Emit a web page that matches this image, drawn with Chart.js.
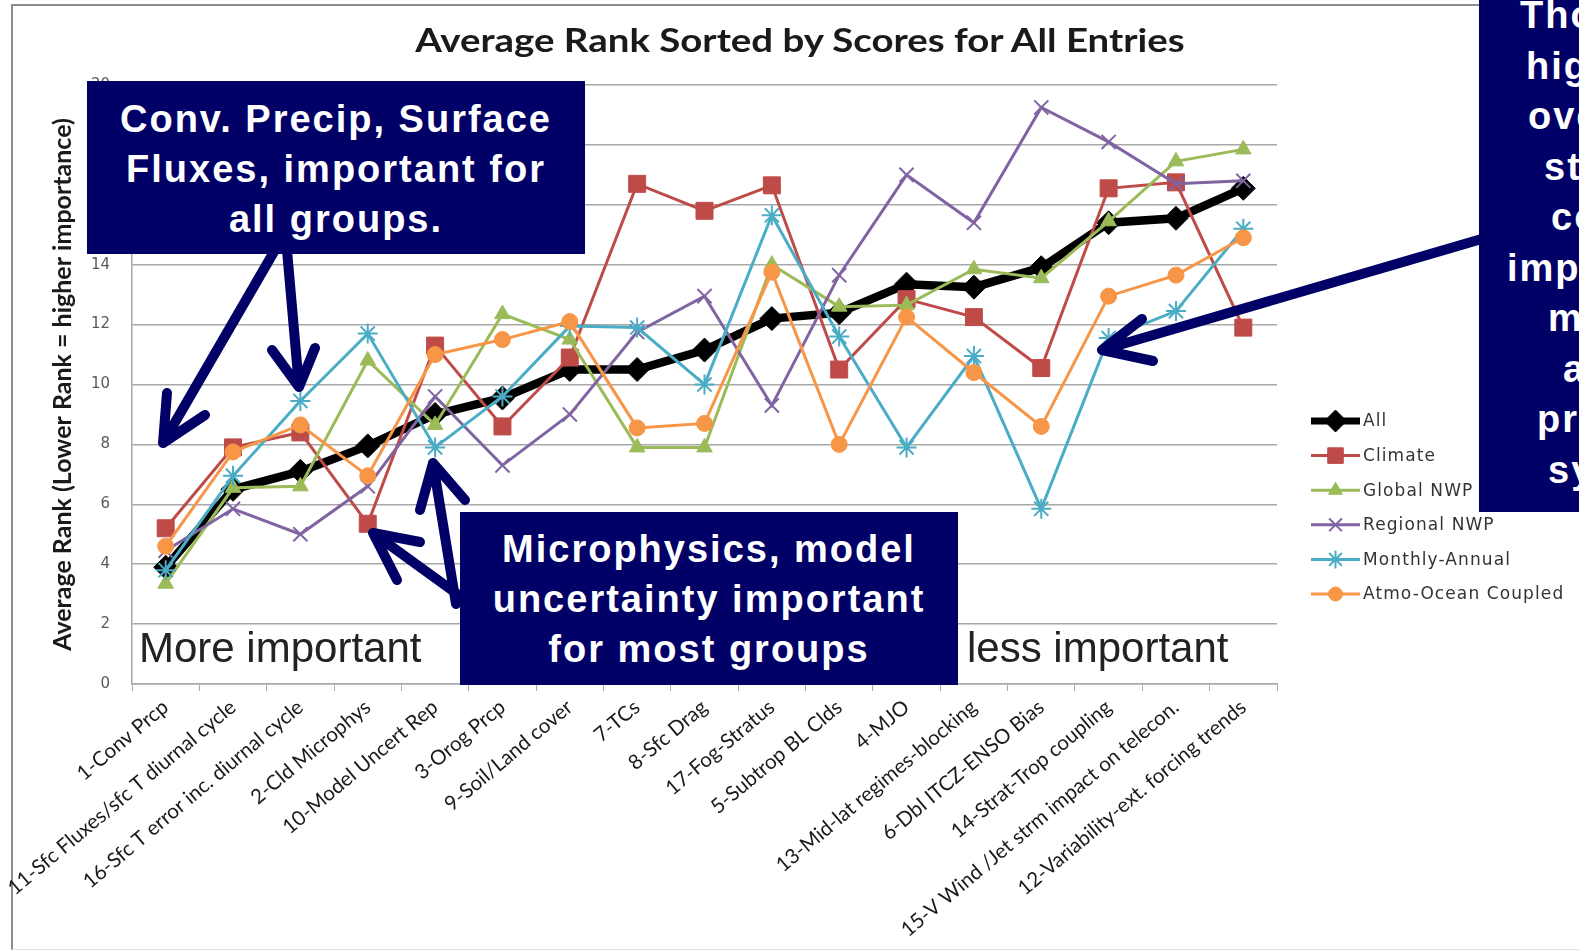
<!DOCTYPE html>
<html>
<head>
<meta charset="utf-8">
<script src="https://cdn.jsdelivr.net/npm/chart.js"></script>
<style>
  body { margin: 0; background: #fff; }
  #page { position: relative; width: 1579px; height: 950px; overflow: hidden; background: #fff; }
  #frame { position: absolute; left: 11px; top: 4px; width: 1600px; height: 943px;
           border-top: 2px solid #8c8c8c; border-left: 2px solid #8c8c8c; border-bottom: 1px solid #e2e2e2; }
  #rankChart { position: absolute; left: 0; top: 0; }
  #title { position: absolute; left: 0; top: 24px; width: 1600px; text-align: center;
           font-family: Lato, sans-serif; font-weight: bold; font-size: 32px; line-height: 32px;
           color: #1a1a1a; transform: scaleX(1.2); white-space: nowrap; }
  svg { position: absolute; left: 0; top: 0; }
  .box { position: absolute; background: #010066; color: #fff; box-sizing: border-box;
         font-family: "Liberation Sans", Arial, sans-serif; font-weight: bold; font-size: 38px;
         line-height: 50px; letter-spacing: 2px; text-align: center; white-space: nowrap; }
  .side { text-align: left; line-height: 50.5px; }
  .hint { position: absolute; font-family: "Liberation Sans", Arial, sans-serif; font-size: 42px;
          line-height: 42px; color: #222; white-space: nowrap; }
</style>
</head>
<body>
<div id="page">
  <div id="frame"></div>
  <canvas id="rankChart" width="1579" height="950"></canvas>
  <div id="title">Average Rank Sorted by Scores for All Entries</div>

  <svg width="1579" height="950">
    <g stroke="#010066" stroke-width="10" fill="none" stroke-linecap="round" stroke-linejoin="round">
      <path d="M275 250 L163 443 M167 393 L163 443 L205 415"/>
      <path d="M287 250 L299 387 M272 350 L299 387 L315 348"/>
      <path d="M460 596 L373 533 M420 542 L373 533 L397 580"/>
      <path d="M456 604 L433 463 M420 510 L433 463 L465 500"/>
      <path d="M1485 238 L1102 350 M1142 319 L1102 350 L1153 361"/>
    </g>
  </svg>

  <div class="hint" style="left:139px; top:627px;">More important</div>
  <div class="hint" style="left:967px; top:627px;">less important</div>

  <div class="box" style="left:87px; top:81px; width:498px; height:173px; padding-top:13px;">
    Conv. Precip, Surface<br>Fluxes, important for<br>all groups.
  </div>
  <div class="box" style="left:460px; top:512px; width:498px; height:173px; padding-top:12px;">
    Microphysics, model<br>uncertainty important<br>for most groups
  </div>
  <div class="box side" style="left:1479px; top:-20px; width:300px; height:532px; padding-top:10px;">
    <div style="padding-left:41px">Those with</div>
    <div style="padding-left:47px">highest</div>
    <div style="padding-left:49px">overall</div>
    <div style="padding-left:65px">std. dev.</div>
    <div style="padding-left:72px">considered</div>
    <div style="padding-left:28px">important</div>
    <div style="padding-left:69px">many</div>
    <div style="padding-left:84px">across</div>
    <div style="padding-left:58px">prediction</div>
    <div style="padding-left:69px">systems</div>
  </div>
</div>

<script>
// processes, ordered by the overall average rank
const processes = [
  "1-Conv Prcp", "11-Sfc Fluxes/sfc T diurnal cycle", "16-Sfc T error inc. diurnal cycle",
  "2-Cld Microphys", "10-Model Uncert Rep", "3-Orog Prcp", "9-Soil/Land cover", "7-TCs",
  "8-Sfc Drag", "17-Fog-Stratus", "5-Subtrop BL Clds", "4-MJO", "13-Mid-lat regimes-blocking",
  "6-Dbl ITCZ-ENSO Bias", "14-Strat-Trop coupling", "15-V Wind /Jet strm impact on telecon.",
  "12-Variability-ext. forcing trends"
];

// average rank per group
const rankAll      = [3.9, 6.5, 7.1, 7.95, 9.0, 9.55, 10.5, 10.5, 11.15, 12.2, 12.4, 13.35, 13.25, 13.9, 15.4, 15.55, 16.55];
const rankClimate  = [5.2, 7.9, 8.4, 5.35, 11.3, 8.6, 10.9, 16.7, 15.8, 16.65, 10.5, 12.85, 12.25, 10.55, 16.55, 16.75, 11.9];
const rankGlobal   = [3.35, 6.55, 6.6, 10.8, 8.65, 12.35, 11.5, 7.9, 7.9, 14.0, 12.6, 12.65, 13.85, 13.55, 15.45, 17.45, 17.85];
const rankRegional = [4.45, 5.85, 5.0, 6.6, 9.6, 7.3, 9.0, 11.75, 12.95, 9.3, 13.65, 17.0, 15.4, 19.25, 18.1, 16.7, 16.8];
const rankMonthly  = [3.8, 6.95, 9.45, 11.7, 7.9, 9.6, 11.95, 11.9, 10.0, 15.65, 11.6, 7.9, 10.95, 5.85, 11.55, 12.45, 15.2];
const rankCoupled  = [4.6, 7.75, 8.65, 6.95, 11.0, 11.5, 12.1, 8.55, 8.7, 13.75, 8.0, 12.25, 10.4, 8.6, 12.95, 13.65, 14.9];

const yTicks = [0, 2, 4, 6, 8, 10, 12, 14, 16, 18, 20];

function series(label, data, color, style, radius, width, order) {
  const thin = style === 'crossRot' || style === 'star';
  return {
    label: label,
    data: data,
    borderColor: color,
    backgroundColor: color,
    borderWidth: width,
    pointStyle: style,
    pointRadius: radius,
    pointBackgroundColor: color,
    pointBorderColor: color,
    pointBorderWidth: thin ? 2 : 1,
    tension: 0,
    order: order
  };
}

// legend drawn as a column beside the plot
const LEGEND_TOP = 421;
const LEGEND_GAP = 34.6;
const sideLegend = {
  id: 'sideLegend',
  afterDraw(chart) {
    const ctx = chart.ctx;
    chart.data.datasets.forEach((ds, i) => {
      const y = LEGEND_TOP + i * LEGEND_GAP;
      ctx.save();
      ctx.strokeStyle = ds.borderColor;
      ctx.lineWidth = Math.min(ds.borderWidth, 7);
      ctx.beginPath();
      ctx.moveTo(1311, y);
      ctx.lineTo(1360, y);
      ctx.stroke();
      ctx.fillStyle = ds.pointBackgroundColor;
      ctx.strokeStyle = ds.pointBorderColor;
      ctx.lineWidth = ds.pointBorderWidth;
      Chart.helpers.drawPoint(ctx, {
        pointStyle: ds.pointStyle,
        radius: ds.pointRadius - 1,
        rotation: 0,
        borderWidth: ds.pointBorderWidth
      }, 1335.5, y);
      ctx.fillStyle = '#333';
      ctx.font = '17px "DejaVu Sans"';
      ctx.letterSpacing = '1.1px';
      ctx.textBaseline = 'middle';
      ctx.textAlign = 'left';
      ctx.fillText(ds.label, 1363, y + 1);
      ctx.restore();
    });
  }
};

new Chart(document.getElementById('rankChart'), {
  type: 'line',
  data: {
    labels: processes,
    datasets: [
      series('All', rankAll, '#000000', 'rectRot', 12, 8.5, 6),
      series('Climate', rankClimate, '#BE4B48', 'rect', 12, 3, 5),
      series('Global NWP', rankGlobal, '#9BBB59', 'triangle', 9, 3, 4),
      series('Regional NWP', rankRegional, '#8064A2', 'crossRot', 10, 3, 3),
      series('Monthly-Annual', rankMonthly, '#4BACC6', 'star', 10, 3, 2),
      series('Atmo-Ocean Coupled', rankCoupled, '#F79646', 'circle', 8, 3, 1)
    ]
  },
  options: {
    responsive: false,
    animation: false,
    layout: {
      padding: { left: 12, right: 302, top: 85, bottom: 0 }
    },
    plugins: {
      legend: { display: false },
      tooltip: { enabled: false },
      title: { display: false }
    },
    scales: {
      x: {
        offset: true,
        grid: { display: true, drawOnChartArea: false, drawTicks: true, tickLength: 7, color: '#a8a8a8', offset: true },
        border: { color: '#a8a8a8', width: 1.5 },
        ticks: {
          autoSkip: false,
          minRotation: 40,
          maxRotation: 40,
          padding: 4,
          color: '#1a1a1a',
          font: { family: 'Lato', size: 20.5 }
        },
        afterFit(scale) { scale.height = 266; }
      },
      y: {
        min: 0,
        max: 20,
        grid: { color: '#a8a8a8', lineWidth: 1.5, drawTicks: false },
        border: { color: '#a8a8a8', width: 1.5 },
        afterBuildTicks(scale) { scale.ticks = yTicks.map(v => ({ value: v })); },
        ticks: {
          padding: 22,
          color: '#595959',
          font: { family: 'DejaVu Sans', size: 15 }
        },
        title: {
          display: true,
          text: 'Average Rank (Lower Rank = higher importance)',
          color: '#1a1a1a',
          font: { family: 'Lato', size: 25, weight: 'bold' },
          padding: { top: 36, bottom: 0 }
        },
        afterFit(scale) { scale.width = 120; }
      }
    }
  },
  plugins: [sideLegend]
});
</script>
</body>
</html>
